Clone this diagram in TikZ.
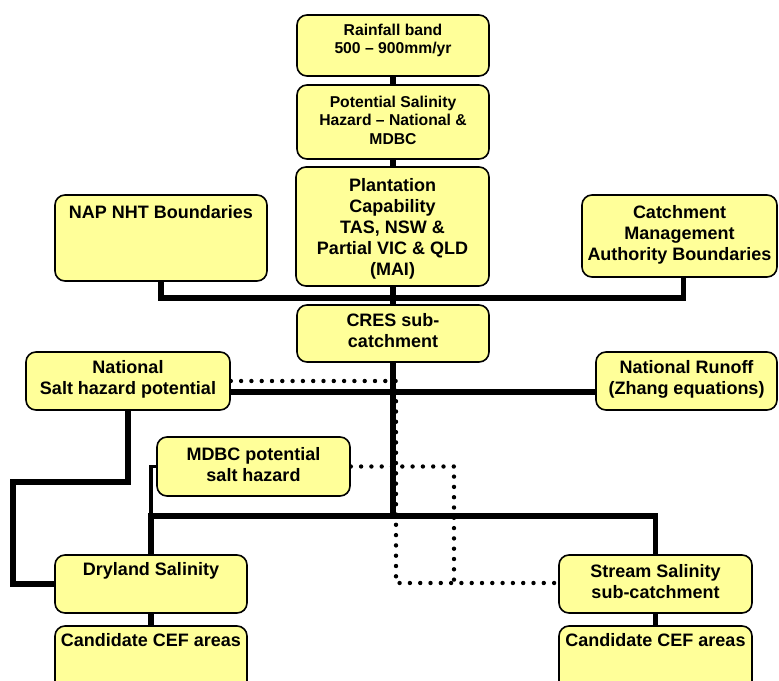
\documentclass[tikz,border=0pt]{standalone}
\usepackage{fontspec}
\setmainfont{Liberation Sans}
\usetikzlibrary{backgrounds,decorations.markings}
\definecolor{boxfill}{RGB}{255,255,153}
\begin{document}
\begin{tikzpicture}[x=1pt,y=-1pt,
  box/.style={draw=black,line width=1.6pt,fill=boxfill,rounded corners=10pt,inner sep=0pt},
  big/.style={font=\fontsize{18}{20.9}\selectfont\bfseries},
  small/.style={font=\fontsize{15.7}{18.6}\selectfont\bfseries},
  txt/.style={inner sep=0pt,align=center,big},
  stxt/.style={inner sep=0pt,align=center,small},
  link/.style={line width=5.2pt},
  thinlink/.style={line width=3.4pt},
  dots/.style={decoration={markings,mark=between positions 0 and 1 step 10.3pt with {\fill[black] (0,0) circle (2.2pt);}},decorate}]
\useasboundingbox (0,0) rectangle (779,680);
\clip (0,0) rectangle (779,680);

% boxes
\node[box,minimum width=192pt,minimum height=61pt] (rain) at (393,45.5) {};
\node[stxt] (raintxt) at (393,40.5) {Rainfall band\\500 -- 900mm/yr};
\node[box,minimum width=192pt,minimum height=74pt] (pot) at (393,122) {};
\node[stxt] (pottxt) at (393,120) {Potential Salinity\\Hazard -- National \&\\MDBC};
\node[box,minimum width=193pt,minimum height=119pt] (plant) at (392.5,226.5) {};
\node[txt] (planttxt) at (392.5,229) {Plantation\\Capability\\TAS, NSW \&\\Partial VIC \& QLD\\(MAI)};
\node[box,minimum width=212pt,minimum height=86pt] (nap) at (161,238) {};
\node[txt] (naptxt) at (161,212) {NAP NHT Boundaries};
\node[box,minimum width=195pt,minimum height=82pt] (cma) at (679.5,236) {};
\node[txt] (cmatxt) at (679.5,234.5) {Catchment\\Management\\Authority Boundaries};
\node[box,minimum width=192pt,minimum height=57pt] (cres) at (393,333.5) {};
\node[txt] (crestxt) at (393,331) {CRES sub-\\catchment};
\node[box,minimum width=204pt,minimum height=58pt] (nat) at (128,381) {};
\node[txt] (nattxt) at (128,379) {National\\Salt hazard potential};
\node[box,minimum width=181pt,minimum height=58pt] (runoff) at (686.5,381) {};
\node[txt] (runofftxt) at (686.5,379.5) {National Runoff\\(Zhang equations)};
\node[box,minimum width=193pt,minimum height=59pt] (mdbc) at (253.5,466.5) {};
\node[txt] (mdbctxt) at (253.5,465) {MDBC potential\\salt hazard};
\node[box,minimum width=192pt,minimum height=58pt] (dry) at (151,584) {};
\node[txt] (drytxt) at (151,571) {Dryland Salinity};
\node[box,minimum width=192pt,minimum height=74pt] (cand1) at (151,663) {};
\node[txt] (cand1txt) at (151,640) {Candidate CEF areas};
\node[box,minimum width=193pt,minimum height=58pt] (stream) at (655.5,584) {};
\node[txt] (streamtxt) at (655.5,581.5) {Stream Salinity\\sub-catchment};
\node[box,minimum width=193pt,minimum height=74pt] (cand2) at (655.5,663) {};
\node[txt] (cand2txt) at (655.5,640) {Candidate CEF areas};

% junction points
\coordinate (hbar) at (393,298);
\coordinate (hbar2) at (393,516);
\coordinate (mj) at (151,516);
\coordinate (k1) at (128,482);
\coordinate (k2) at (13,482);
\coordinate (d1) at (396,381);
\coordinate (d2) at (396,583);
\coordinate (d3) at (454,466.5);
\coordinate (d4) at (454,583);

\begin{scope}[on background layer]
\draw[link] (rain.south) -- (pot.north);
\draw[link] (pot.south) -- (plant.north -| pot.south);
\draw[link] (plant.south -| hbar) -- (cres.north);
\draw[link] (nap.south) |- (hbar) -| ([xshift=4pt]cma.south);
\draw[link] (cres.south) -- (hbar2);
\draw[link] (dry.north) |- (hbar2) -| (stream.north);
\draw[link] ([yshift=-11pt]nat.east) -- ([yshift=-11pt]runoff.west);
\draw[link] (nat.south) -- (k1) -- (k2) |- (dry.west);
\draw[thinlink] (mdbc.west) -| (mj);
\draw[link] (dry.south) -- (cand1.north);
\draw[link] (stream.south) -- (cand2.north);
\path[dots] (nat.east) -- (d1) -- (d2) -- (stream.west |- d2);
\path[dots] (mdbc.east) -- (d3) -- (d4);
\end{scope}
\end{tikzpicture}
\end{document}
